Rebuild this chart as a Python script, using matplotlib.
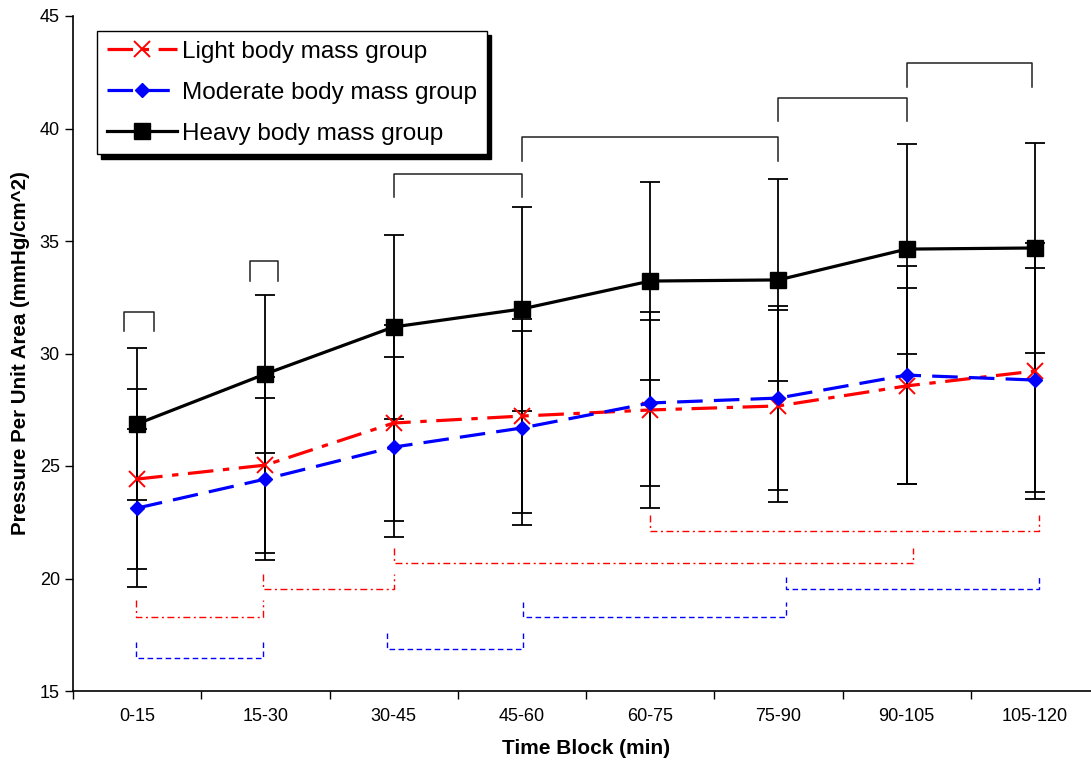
import numpy as np
import matplotlib.pyplot as plt

plt.rcParams['font.family'] = ['Liberation Sans', 'DejaVu Sans']

# time blocks
blocks = ['0-15', '15-30', '30-45', '45-60', '60-75', '75-90', '90-105', '105-120']

# group means (mmHg/cm^2)
light = [24.42, 25.04, 26.91, 27.22, 27.49, 27.67, 28.56, 29.22]
moderate = [23.13, 24.42, 25.84, 26.69, 27.80, 28.02, 29.04, 28.82]
heavy = [26.87, 29.09, 31.18, 31.98, 33.22, 33.27, 34.64, 34.69]

# standard deviations
light_sd = [4.01, 3.90, 4.34, 4.30, 4.34, 4.27, 4.36, 5.67]
moderate_sd = [3.50, 3.60, 4.00, 4.31, 3.69, 4.10, 4.84, 4.96]
heavy_sd = [3.39, 3.51, 4.09, 4.55, 4.40, 4.49, 4.67, 4.68]

# significance brackets: (x start, x end, bar level, leg end)
heavy_brackets = [(-0.10, 0.13, 31.84, 31.0), (0.88, 1.10, 34.11, 33.22),
                  (2.0, 3.0, 37.98, 36.96), (3.0, 5.0, 39.64, 38.57),
                  (5.0, 6.0, 41.36, 40.35), (6.0, 6.98, 42.90, 41.83)]
light_brackets = [(-0.01, 0.98, 18.28, 19.04), (0.98, 2.0, 19.52, 20.2),
                  (2.0, 6.05, 20.68, 21.36), (4.0, 7.03, 22.11, 22.82)]
moderate_brackets = [(-0.01, 0.98, 16.48, 17.19), (1.95, 3.01, 16.87, 17.56),
                     (3.01, 5.06, 18.28, 18.97), (5.06, 7.03, 19.52, 20.08)]

x = np.arange(len(blocks))

fig = plt.figure(figsize=(10.91, 7.61), dpi=100)
ax = fig.add_axes([73 / 1091, 70 / 761, 1026 / 1091, 675 / 761])

# error bars (black for all groups)
for m, s in [(heavy, heavy_sd), (light, light_sd), (moderate, moderate_sd)]:
    ax.errorbar(x, m, yerr=s, fmt='none', ecolor='black', elinewidth=1.3,
                capsize=7.5, capthick=1.3, zorder=2)

ax.plot(x, light, color='red', lw=2.3, linestyle=(0, (8, 3, 2, 3)),
        marker='x', markersize=12, markeredgewidth=1.4, zorder=4,
        label='Light body mass group')
ax.plot(x, moderate, color='blue', lw=2.3, linestyle=(0, (8, 3.5)),
        marker='D', markersize=7.5, zorder=4, label='Moderate body mass group')
ax.plot(x, heavy, color='black', lw=2.3, linestyle='-',
        marker='s', markersize=11, zorder=3, label='Heavy body mass group')

# brackets
for x0, x1, yb, yl in heavy_brackets:
    ax.plot([x0, x0, x1, x1], [yl, yb, yb, yl], color='#222222', lw=1.1, zorder=1)
for x0, x1, yb, yl in light_brackets:
    ax.plot([x0, x0, x1, x1], [yl, yb, yb, yl], color='red', lw=1.0,
            linestyle=(0, (5, 2.5, 1.5, 2.5)), zorder=1)
for x0, x1, yb, yl in moderate_brackets:
    ax.plot([x0, x0, x1, x1], [yl, yb, yb, yl], color='blue', lw=1.0,
            linestyle=(0, (4, 2.5)), zorder=1)

ax.set_xlim(-0.5, 7.5)
ax.set_ylim(15, 45)
ax.set_yticks(np.arange(15, 46, 5))
ax.set_xticks(x)
ax.set_xticklabels(blocks)
ax.set_xticks(np.arange(-0.5, 8, 1), minor=True)
ax.tick_params(axis='x', which='major', length=0, labelsize=13, pad=12)
ax.tick_params(axis='x', which='minor', length=6, width=1, direction='out')
ax.tick_params(axis='y', length=6, width=1, direction='out', labelsize=13)

for side in ['top', 'right']:
    ax.spines[side].set_visible(False)
for side in ['left', 'bottom']:
    ax.spines[side].set_linewidth(1.2)

ax.set_xlabel('Time Block (min)', fontsize=15, fontweight='bold', labelpad=10)
ax.set_ylabel('Pressure Per Unit Area (mmHg/cm^2)', fontsize=14.8,
              fontweight='bold', labelpad=7)

leg = ax.legend(loc='upper left', bbox_to_anchor=(97 / 1091, 1 - 31 / 761),
                bbox_transform=fig.transFigure, borderaxespad=0,
                fontsize=17.5, handlelength=2.9, handletextpad=0.2,
                labelspacing=0.78, borderpad=0.4, fancybox=False,
                shadow={'ox': 3, 'oy': -3, 'facecolor': 'black',
                        'edgecolor': 'black', 'alpha': 1})
leg.get_frame().set_edgecolor('black')
leg.get_frame().set_linewidth(1.0)
leg.get_frame().set_alpha(1)

fig.savefig('out.png', dpi=100)
